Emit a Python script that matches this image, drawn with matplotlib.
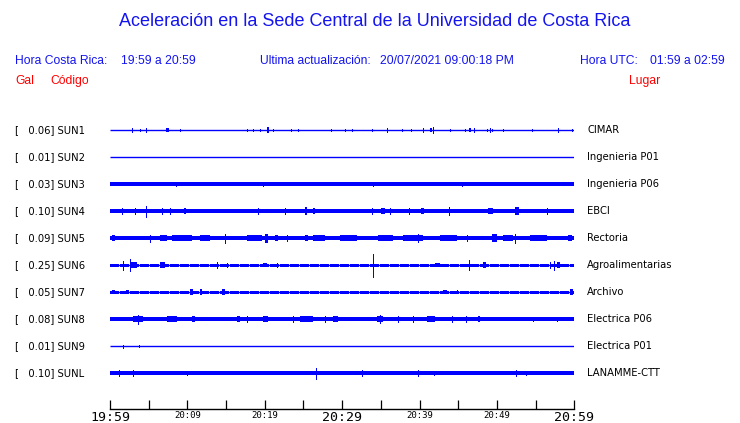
import matplotlib
matplotlib.use("Agg")
import matplotlib.pyplot as plt
import matplotlib.transforms as mtransforms

plt.rcParams['lines.scale_dashes'] = False

# ---- data ------------------------------------------------------------------
stations = ['SUN1', 'SUN2', 'SUN3', 'SUN4', 'SUN5', 'SUN6', 'SUN7', 'SUN8', 'SUN9', 'SUNL']
peak_gal = [0.06, 0.01, 0.03, 0.10, 0.09, 0.25, 0.05, 0.08, 0.01, 0.10]
places = ['CIMAR', 'Ingenieria P01', 'Ingenieria P06', 'EBCI', 'Rectoria',
          'Agroalimentarias', 'Archivo', 'Electrica P06', 'Electrica P01', 'LANAMME-CTT']

# half height of the background noise band of each trace (0 = flat line)
noise_amp = [0, 0, 1.8, 1.7, 2.0, 1.4, 1.6, 1.7, 0, 1.8]
# traces whose noise comes in short packets rather than a solid band
patchy = ['SUN6', 'SUN7']

# bursts: (minute after 19:59, half duration in minutes, half amplitude)
sun1_bursts = [(2.8, 0, 1.6), (3.9, 0, 1.3), (4.7, 0, 1.6), (7.4, 0.2, 2.0), (9.0, 0, 1.3),
               (17.7, 0, 1.3), (18.5, 0, 1.3), (19.4, 0, 1.3), (20.4, 0.15, 3.0), (21.1, 0, 1.3),
               (23.4, 0, 1.3), (24.3, 0, 1.3), (28.6, 0, 1.3), (30.4, 0, 1.3), (31.3, 0, 1.3),
               (33.8, 0, 1.3), (35.8, 0, 1.6), (37.7, 0, 1.3), (38.9, 0, 1.3), (40.4, 0, 1.8),
               (41.5, 0.1, 1.8), (41.7, 0, 2.8), (43.9, 0, 1.3), (45.9, 0, 1.3), (46.5, 0.1, 2.0),
               (47.0, 0, 1.6), (48.7, 0, 1.3), (49.1, 0, 1.6), (49.4, 0, 1.3), (50.8, 0, 1.3),
               (54.5, 0, 1.3), (57.9, 0, 1.6), (59.7, 0, 1.3)]
sun2_bursts = []
sun3_bursts = [(19.8, 0, 2.4), (34.0, 0, 2.3), (8.5, 0, 2.2), (45.5, 0, 2.2)]
sun4_bursts = [(1.5, 0, 2.8), (3.2, 0, 2.8), (4.6, 0, 5.5), (6.7, 0, 2.8), (7.8, 0, 2.6),
               (9.7, 0.15, 3.2), (19.1, 0, 2.8), (22.6, 0, 2.6), (25.3, 0.15, 4.0), (26.4, 0.15, 3.2),
               (33.8, 0, 2.8), (35.3, 0.3, 3.3), (36.2, 0, 2.8), (38.6, 0, 2.6), (40.4, 0.15, 3.0),
               (43.8, 0, 4.2), (49.2, 0.3, 3.2), (52.6, 0.2, 3.8), (56.5, 0, 2.8)]
sun5_bursts = [(0.5, 0.2, 2.8), (5.2, 0, 3.5), (6.9, 0.45, 2.7), (9.3, 1.3, 2.8), (12.3, 0.65, 2.7),
               (14.9, 0, 4.5), (18.7, 1.0, 2.7), (20.2, 0.2, 4.5), (21.5, 0.2, 2.7), (22.9, 0, 2.8),
               (25.4, 0.2, 3.0), (27.0, 0.8, 3.0), (30.8, 1.1, 2.7), (35.6, 1.0, 3.0), (39.1, 1.3, 3.0),
               (39.8, 0, 4.2), (43.7, 1.1, 2.7), (46.1, 0, 2.8), (49.7, 0.3, 4.0), (51.4, 0.65, 3.0),
               (52.3, 0, 4.5), (55.4, 1.1, 3.0), (59.4, 0.25, 3.0)]
sun6_bursts = [(1.7, 0, 4.5), (2.6, 0, 6.0), (3.1, 0.4, 3.2), (6.8, 0.3, 2.7), (13.8, 0, 2.8),
               (15.1, 0, 2.4), (20.0, 0.25, 2.4), (21.6, 0, 2.4), (34.0, 0, 11.5), (42.3, 0.3, 2.4),
               (46.4, 0, 5.3), (48.4, 0.25, 2.7), (56.8, 0, 2.8), (57.4, 0, 4.5), (57.9, 0.2, 2.7)]
sun7_bursts = [(0.45, 0.2, 2.4), (2.3, 0.2, 2.2), (10.5, 0.2, 2.8), (11.8, 0.15, 2.6),
               (14.7, 0.2, 2.6), (43.3, 0.25, 2.4), (44.9, 0.1, 2.4), (59.6, 0.2, 3.0)]
sun8_bursts = [(3.6, 0.65, 3.0), (3.65, 0, 4.5), (8.0, 0.6, 2.7), (10.8, 0.2, 2.7), (16.6, 0.2, 2.7),
               (17.7, 0, 2.6), (20.1, 0.3, 2.7), (23.6, 0, 2.6), (25.4, 0.8, 2.7), (27.8, 0, 2.6),
               (29.1, 0.3, 2.7), (34.9, 0.4, 3.0), (34.9, 0, 4.2), (37.2, 0, 2.6), (39.1, 0, 2.6),
               (41.5, 0.5, 2.9), (44.2, 0, 2.6), (46.0, 0, 2.8), (47.7, 0.15, 2.8), (54.7, 0, 2.4),
               (57.8, 0, 2.4)]
sun9_bursts = [(1.7, 0, 1.5), (3.7, 0, 1.2)]
sunl_bursts = [(1.2, 0, 2.6), (3.0, 0, 2.6), (9.9, 0, 2.2), (26.6, 0, 5.5), (32.6, 0, 2.6),
               (39.8, 0, 2.6), (41.9, 0, 2.2), (52.5, 0, 3.2), (53.8, 0, 2.2)]
bursts = [sun1_bursts, sun2_bursts, sun3_bursts, sun4_bursts, sun5_bursts,
          sun6_bursts, sun7_bursts, sun8_bursts, sun9_bursts, sunl_bursts]

tick_minutes = [0, 10, 20, 30, 40, 50, 60]
tick_labels = ['19:59', '20:09', '20:19', '20:29', '20:39', '20:49', '20:59']
big_labels = ['19:59', '20:29', '20:59']

title = 'Aceleración en la Sede Central de la Universidad de Costa Rica'
hora_cr = ('Hora Costa Rica:', '19:59 a 20:59')
update = ('Ultima actualización:', '20/07/2021 09:00:18 PM')
hora_utc = ('Hora UTC:', '01:59 a 02:59')

# ---- drawing ---------------------------------------------------------------
BLUE = '#0000ff'
RED = '#ff0000'
HEAD = '#1414f0'
gain = 1 / 27.0  # amplitude units per row spacing

W, H = 740, 423
fig = plt.figure(figsize=(W / 100, H / 100), dpi=100)
ax = fig.add_axes([110 / W, (H - 409) / H, 464.3 / W, 303.3 / H])

for i, name in enumerate(stations):
    a = noise_amp[i] * gain
    ax.hlines(i, 0, 60, color=BLUE, lw=1.0, antialiased=True)
    if name in patchy:
        ax.plot([0, 60], [i, i], color=BLUE, lw=2 * noise_amp[i] * 0.72,
                dashes=(6, 1.2), solid_capstyle='butt', antialiased=False)
    elif a > 0:
        ax.fill_between([0, 60], i - a, i + a, color=BLUE, lw=0, antialiased=False)
    for t, w, amp in bursts[i]:
        amp = amp * gain
        if w == 0:
            ax.vlines(t, i - amp, i + amp, color=BLUE, lw=0.72, antialiased=False)
        else:
            ax.fill_between([t - w, t + w], i - amp, i + amp, color=BLUE, lw=0,
                            antialiased=False)

ax.set_xlim(0, 60)
ax.set_ylim(10.333, -0.9)
for s in ['left', 'right', 'top']:
    ax.spines[s].set_visible(False)
ax.spines['bottom'].set_linewidth(1.0)
ax.set_yticks([])
ax.set_xticks(tick_minutes)
ax.set_xticks([5, 15, 25, 35, 45, 55], minor=True)
ax.set_xticklabels(tick_labels, family='DejaVu Sans Mono')
ax.tick_params(axis='x', which='both', direction='in', length=6.5, width=0.9, pad=1.5)
for lab in ax.get_xticklabels():
    lab.set_fontsize(9.5 if lab.get_text() in big_labels else 6.5)

# labels each side of the traces
lt = mtransforms.blended_transform_factory(ax.transAxes, ax.transData)
for i, name in enumerate(stations):
    ax.text((15 - 110) / 464.3, i, '[   %.2f] %s' % (peak_gal[i], name),
            transform=lt, ha='left', va='center', fontsize=7.2, family='DejaVu Sans')
    ax.text((587 - 110) / 464.3, i, places[i], transform=lt, ha='left', va='center',
            fontsize=7.2, family='DejaVu Sans')

# header
fig.text(375 / W, 1 - 22 / H, title, ha='center', va='center', fontsize=13.0,
         color=HEAD, family='Liberation Sans')
for x, txt in [(15, hora_cr[0]), (121, hora_cr[1]), (260, update[0]), (380, update[1]),
               (580, hora_utc[0]), (650, hora_utc[1])]:
    fig.text(x / W, 1 - 61 / H, txt, ha='left', va='center', fontsize=8.7,
             color=HEAD, family='Liberation Sans')
for x, txt in [(15, 'Gal'), (50, 'Código'), (629, 'Lugar')]:
    fig.text(x / W, 1 - 81 / H, txt, ha='left', va='center', fontsize=8.7,
             color=RED, family='Liberation Sans')

fig.savefig('out.png', dpi=100)
